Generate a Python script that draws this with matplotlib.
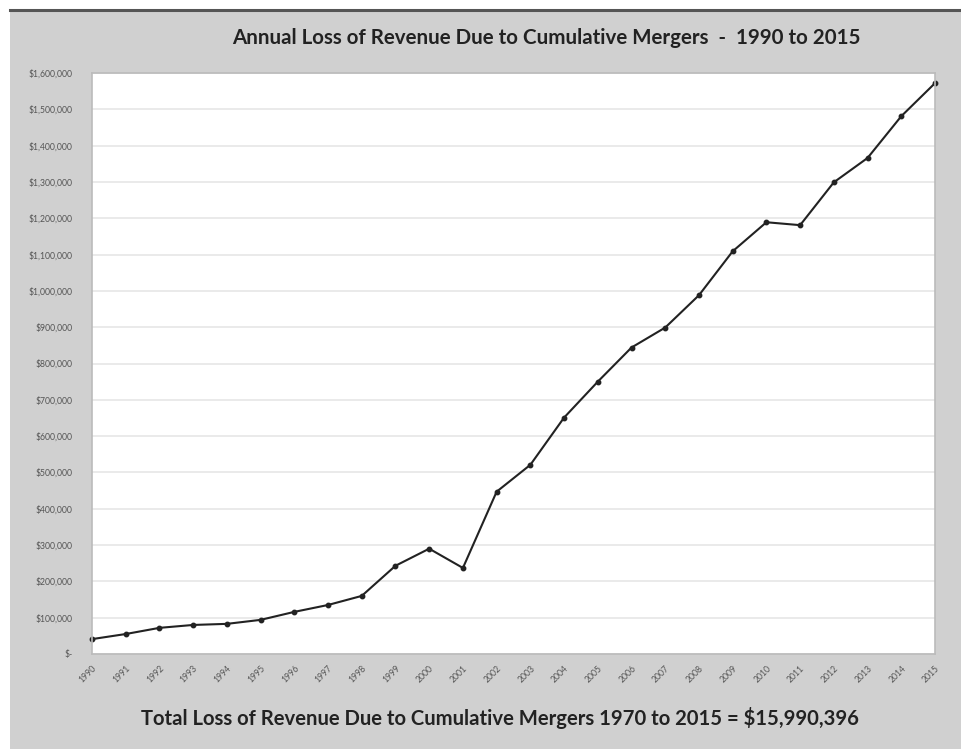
import matplotlib
matplotlib.use("Agg")
import matplotlib.pyplot as plt
from matplotlib.patches import Rectangle
from matplotlib.lines import Line2D
from matplotlib.ticker import FuncFormatter

years = list(range(1990, 2016))
loss = [41000, 55000, 72000, 80000, 83000, 94000, 116000, 135000, 160000,
        243000, 290000, 237000, 447000, 521000, 651000, 750000, 844000,
        899000, 988000, 1109000, 1189000, 1181000, 1299000, 1366000,
        1481000, 1572000]

title = "Annual Loss of Revenue Due to Cumulative Mergers  -  1990 to 2015"
footer = "Total Loss of Revenue Due to Cumulative Mergers 1970 to 2015 = $15,990,396"

plt.rcParams['font.family'] = ['Lato', 'DejaVu Sans']

fig = plt.figure(figsize=(9.62, 7.49), dpi=100, facecolor="white")

# grey chart panel with dark top edge
fig.patches.append(Rectangle((10 / 962, 0), 1 - 10 / 962, 1 - 10 / 749,
                             transform=fig.transFigure, facecolor="#d0d0d0",
                             edgecolor="none", zorder=-5))
fig.lines.append(Line2D([10 / 962, 1], [1 - 10 / 749, 1 - 10 / 749],
                        transform=fig.transFigure, color="#555555", lw=2.2,
                        zorder=-4))

ax = fig.add_axes([92 / 962, 95 / 749, 843 / 962, 581 / 749])
ax.set_facecolor("white")
ax.plot(years, loss, color="#222222", lw=1.5, marker="o", markersize=3.2,
        clip_on=False)

ax.set_xlim(1990, 2015)
ax.set_ylim(0, 1600000)
ax.set_yticks(range(0, 1600001, 100000))
ax.set_xticks(years)
ax.yaxis.set_major_formatter(FuncFormatter(
    lambda v, p: "$-" if v == 0 else f"${v:,.0f}"))
ax.grid(axis="y", color="#e6e6e6", lw=1.2)
ax.set_axisbelow(True)

ax.tick_params(axis="y", length=0, labelsize=6.2, labelcolor="#555555", pad=14)
ax.tick_params(axis="x", length=0, labelsize=6.2, labelcolor="#555555", pad=7)
for lbl in ax.get_xticklabels():
    lbl.set_rotation(45)
    lbl.set_ha("right")
    lbl.set_rotation_mode("anchor")

for s in ax.spines.values():
    s.set_color("#bbbbbb")
    s.set_linewidth(1.2)

fig.text(546 / 962, 1 - 38 / 749, title, ha="center", va="center",
         fontsize=14.8, fontweight="bold", color="#222222")
fig.text(500 / 962, 1 - 718 / 749, footer, ha="center", va="center",
         fontsize=14.6, fontweight="bold", color="#222222")

fig.savefig("out.png", dpi=100, facecolor=fig.get_facecolor())
